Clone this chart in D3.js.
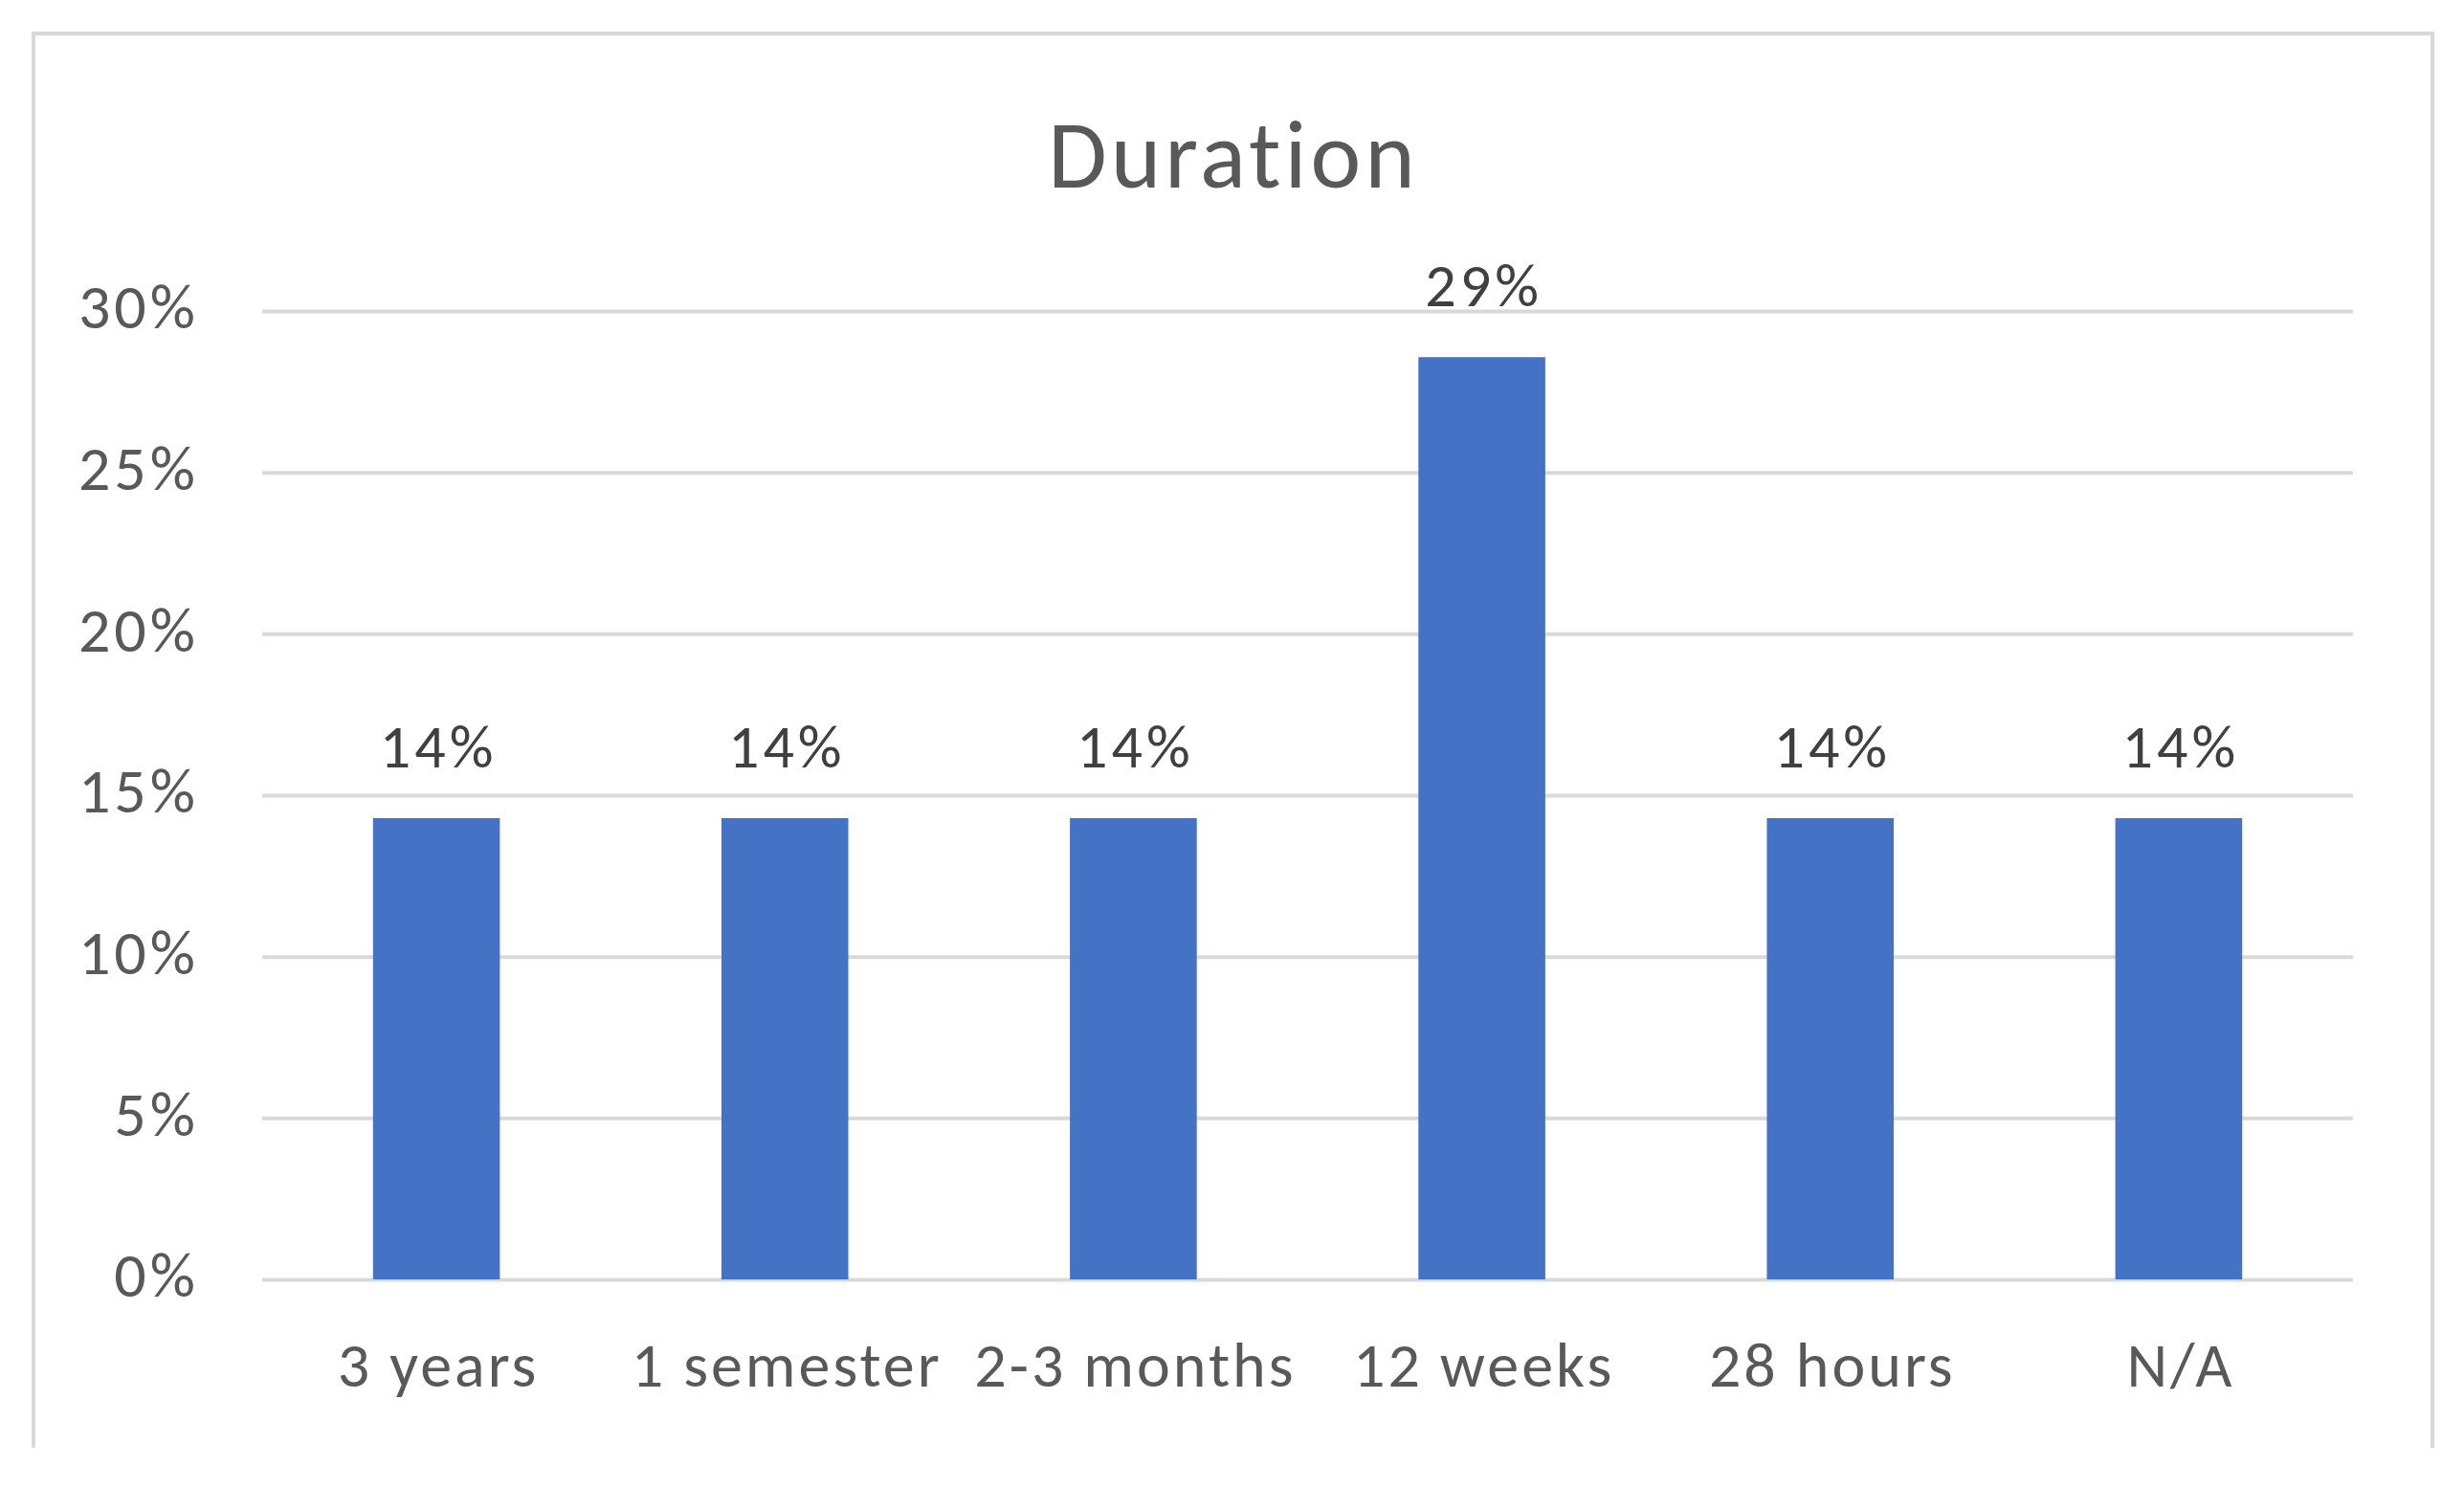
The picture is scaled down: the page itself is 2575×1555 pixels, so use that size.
<!DOCTYPE html>
<html>
<head>
<meta charset="utf-8">
<script src="https://cdnjs.cloudflare.com/ajax/libs/d3/7.8.5/d3.min.js"></script>
<style>
  html, body { margin: 0; padding: 0; background: #ffffff; }
  svg { display: block; }
  text { font-family: Carlito, Calibri, Lato, "Open Sans", sans-serif; font-variant-ligatures: none; }
</style>
</head>
<body>
<svg id="chart" width="2575" height="1555"></svg>
<script>
const chartTitle = "Duration";
const categories = ["3 years", "1 semester", "2-3 months", "12 weeks", "28 hours", "N/A"];
const values = [0.1429, 0.1429, 0.1429, 0.2857, 0.1429, 0.1429];
const valueLabels = ["14%", "14%", "14%", "29%", "14%", "14%"];
const yTicks = [0, 0.05, 0.10, 0.15, 0.20, 0.25, 0.30];
const yTickLabels = ["0%", "5%", "10%", "15%", "20%", "25%", "30%"];

const svg = d3.select("#chart");
const W = 2575, H = 1555;
svg.append("rect").attr("width", W).attr("height", H).attr("fill", "#ffffff");

// frame (bottom edge is cut off in the reference)
svg.append("path")
  .attr("d", "M35,1513 L35,35 L2542,35 L2542,1513")
  .attr("fill", "none").attr("stroke", "#d9d9d9").attr("stroke-width", 4);

const plot = { left: 274, right: 2459, top: 325, bottom: 1337 };

const x = d3.scaleBand()
  .domain(categories)
  .range([plot.left, plot.right])
  .paddingInner(0.636)
  .paddingOuter(0.318);

const y = d3.scaleLinear()
  .domain([0, 0.30])
  .range([plot.bottom, plot.top]);

// gridlines + y labels
const yAxis = d3.axisLeft(y)
  .tickValues(yTicks)
  .tickSize(-(plot.right - plot.left))
  .tickFormat((d, i) => yTickLabels[i]);

const gy = svg.append("g")
  .attr("transform", `translate(${plot.left},0)`)
  .call(yAxis);
gy.select(".domain").remove();
gy.selectAll(".tick line")
  .attr("stroke", "#d9d9d9").attr("stroke-width", 4);
gy.selectAll(".tick text")
  .attr("x", -66)
  .attr("dy", "0.27em")
  .attr("fill", "#595959")
  .attr("font-size", 66)
  .attr("letter-spacing", 4)
  .attr("text-anchor", "end");

// bars
svg.append("g").selectAll("rect")
  .data(values)
  .join("rect")
  .attr("x", (d, i) => x(categories[i]))
  .attr("y", d => y(d))
  .attr("width", x.bandwidth())
  .attr("height", d => y(0) - y(d))
  .attr("fill", "#4472c4");

// data labels
svg.append("g").selectAll("text")
  .data(values)
  .join("text")
  .attr("x", (d, i) => x(categories[i]) + x.bandwidth() / 2 + 2)
  .attr("y", d => y(d) - 53)
  .attr("text-anchor", "middle")
  .attr("fill", "#404040")
  .attr("font-size", 64)
  .attr("letter-spacing", 4)
  .text((d, i) => valueLabels[i]);

// category axis
const xAxis = d3.axisBottom(x).tickSize(0);
const gx = svg.append("g")
  .attr("transform", `translate(0,${plot.bottom})`)
  .call(xAxis);
gx.select(".domain").remove();
gx.selectAll(".tick text")
  .attr("y", 112)
  .attr("dy", 0)
  .attr("dx", 2)
  .attr("fill", "#595959")
  .attr("font-size", 66)
  .attr("letter-spacing", 3);

// title
svg.append("text")
  .attr("x", 1289)
  .attr("y", 196)
  .attr("text-anchor", "middle")
  .attr("fill", "#595959")
  .attr("font-size", 100)
  .attr("letter-spacing", 4)
  .text(chartTitle);
</script>
</body>
</html>
